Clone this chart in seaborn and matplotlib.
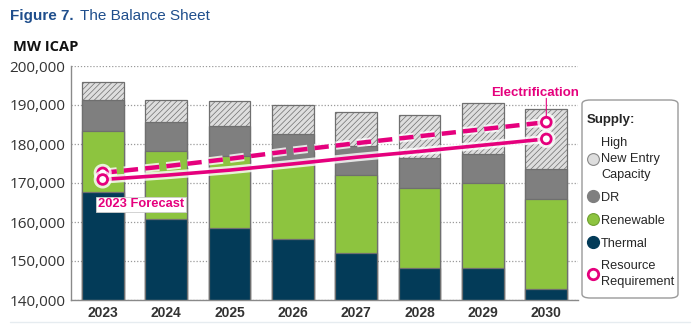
import numpy as np
import pandas as pd
import matplotlib
matplotlib.use("Agg")
import matplotlib.pyplot as plt
import matplotlib.patheffects as pe
from matplotlib.lines import Line2D
from matplotlib.patches import FancyBboxPatch
import seaborn as sns

# ---------------- data ----------------
years = ["2023", "2024", "2025", "2026", "2027", "2028", "2029", "2030"]
thermal = [167700, 160800, 158500, 155700, 152100, 148300, 148300, 142800]
renewable_top = [183400, 178300, 176900, 175000, 172000, 168800, 169900, 166000]
dr_top = [191400, 185600, 184600, 182500, 179500, 176400, 177400, 173500]
total_top = [195800, 191200, 190900, 189900, 188300, 187400, 190400, 188900]
req_base = [170900, 172000, 173300, 174900, 176600, 178100, 179700, 181300]
req_elec = [172600, 174300, 176200, 178300, 180200, 182000, 183800, 185600]
y_ticks = [140000, 150000, 160000, 170000, 180000, 190000, 200000]

C_THERMAL = "#033b58"
C_RENEW = "#8dc43f"
C_DR = "#7f7f7f"
C_HIGH = "#dedede"
C_EDGE = "#6f6f6f"
C_MAG = "#e5007d"
C_BLUE = "#1f4e8c"

sns.set_theme(style="white")
plt.rcParams["font.family"] = ["Liberation Sans", "DejaVu Sans"]
plt.rcParams["hatch.color"] = "#b0b0b0"
plt.rcParams["hatch.linewidth"] = 0.5

fig = plt.figure(figsize=(7, 3.3), dpi=100)
ax = fig.add_axes([71 / 700, 1 - 300 / 330, (578 - 71) / 700, (300 - 66) / 330])

df = pd.DataFrame({"year": years, "thermal": thermal, "renew": renewable_top,
                   "dr": dr_top, "total": total_top})

layers = [("total", C_HIGH, "//////"), ("dr", C_DR, None),
          ("renew", C_RENEW, None), ("thermal", C_THERMAL, None)]
for col, colr, hatch in layers:
    sns.barplot(data=df, x="year", y=col, color=colr, width=0.66,
                edgecolor=C_EDGE, linewidth=0.9, saturation=1, ax=ax,
                hatch=hatch, zorder=2)
for p in ax.patches:
    p.set_zorder(2)

pos = np.arange(len(years))
halo = [pe.Stroke(linewidth=6, foreground="white", alpha=0.8), pe.Normal()]
sns.lineplot(x=pos, y=req_elec, ax=ax, color=C_MAG, linewidth=3.2,
             linestyle=(0, (3.2, 1.6)), marker="o", markevery=[0, len(pos) - 1],
             markersize=7, markerfacecolor="white", markeredgecolor=C_MAG,
             markeredgewidth=2, zorder=5, path_effects=halo)
sns.lineplot(x=pos, y=req_base, ax=ax, color=C_MAG, linewidth=2.6,
             marker="o", markevery=[0, len(pos) - 1],
             markersize=7, markerfacecolor="white", markeredgecolor=C_MAG,
             markeredgewidth=2, zorder=5, path_effects=halo)

ax.set_ylim(140000, 200000)
ax.set_xlim(-0.5, 7.5)
ax.set_yticks(y_ticks)
ax.set_yticklabels([f"{v:,}" for v in y_ticks], fontsize=11, color="#333333",
                   family=["Open Sans", "DejaVu Sans"])
ax.set_xticks(pos)
ax.set_xticklabels(years, fontsize=10, fontweight="bold", color="#333333")
ax.tick_params(axis="both", length=0, pad=4)
ax.set_xlabel("")
ax.set_ylabel("")
ax.yaxis.grid(True, linestyle=(0, (1, 1.5)), color="#9a9a9a", linewidth=0.9)
ax.xaxis.grid(False)
ax.set_axisbelow(True)
for s in ["top", "right"]:
    ax.spines[s].set_visible(False)
for s in ["left", "bottom"]:
    ax.spines[s].set_color("#8a8a8a")
    ax.spines[s].set_linewidth(1)

# annotations
ax.annotate("", xy=(7, req_elec[-1]), xytext=(7, 191700),
            arrowprops=dict(arrowstyle="-", color=C_MAG, lw=0.8,
                            shrinkA=0, shrinkB=4), zorder=6)
ax.text(6.82, 193000, "Electrification", ha="center", va="center",
        color=C_MAG, fontsize=9.5, fontweight="bold")
ax.text(-0.07, 164500, "2023 Forecast", ha="left", va="center", color=C_MAG,
        fontsize=9.3, fontweight="bold", zorder=6,
        bbox=dict(boxstyle="square,pad=0.15", facecolor="white",
                  edgecolor="#cccccc", linewidth=0.6))

# titles
fig.text(10 / 700, 1 - 16 / 330, "Figure 7.", color=C_BLUE, fontsize=11,
         fontweight="bold", ha="left", va="center")
fig.text(80 / 700, 1 - 16 / 330, "The Balance Sheet", color=C_BLUE, fontsize=11,
         ha="left", va="center")
fig.text(13 / 700, 1 - 47 / 330, "MW ICAP", color="#111111", fontsize=10.5,
         fontweight="bold", ha="left", va="center", family=["Open Sans", "DejaVu Sans"])

# legend frame
frame = FancyBboxPatch((582 / 700, 1 - 298 / 330), 96 / 700, 198 / 330,
                       boxstyle="round,pad=0,rounding_size=0.012",
                       transform=fig.transFigure, facecolor="white",
                       edgecolor="#9a9a9a", linewidth=1, zorder=1)
fig.add_artist(frame)

handles = [
    Line2D([], [], linestyle="none", marker="o", markersize=8.5,
           markerfacecolor=C_HIGH, markeredgecolor="#888888", markeredgewidth=0.8),
    Line2D([], [], linestyle="none", marker="o", markersize=8.5,
           markerfacecolor=C_DR, markeredgecolor=C_DR),
    Line2D([], [], linestyle="none", marker="o", markersize=8.5,
           markerfacecolor=C_RENEW, markeredgecolor="#6fa030", markeredgewidth=0.8),
    Line2D([], [], linestyle="none", marker="o", markersize=8.5,
           markerfacecolor=C_THERMAL, markeredgecolor=C_THERMAL),
    Line2D([], [], linestyle="none", marker="o", markersize=7.5,
           markerfacecolor="white", markeredgecolor=C_MAG, markeredgewidth=2),
]
labels = ["High\nNew Entry\nCapacity", "DR", "Renewable", "Thermal", "Resource\nRequirement"]
leg = fig.legend(handles, labels, loc="upper left",
                 bbox_to_anchor=(587 / 700, 1 - 114 / 330), title="Supply:",
                 frameon=False, fontsize=9.2, title_fontsize=9.5,
                 handletextpad=0.2, handlelength=0.9, borderpad=0,
                 borderaxespad=0, labelspacing=0.85, alignment="left")
leg.get_title().set_fontweight("bold")
leg.set_zorder(3)
for t in leg.get_texts():
    t.set_linespacing(1.45)

fig.add_artist(Line2D([10 / 700, 690 / 700], [1 - 322 / 330] * 2,
                      color="#e6ecf0", linewidth=1))

fig.savefig("out.png", dpi=100)
